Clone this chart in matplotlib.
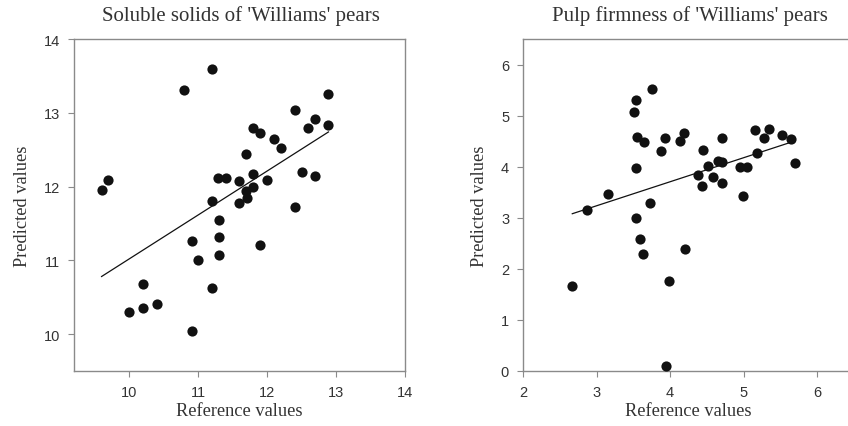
import numpy as np
import matplotlib.pyplot as plt

# ─── DATA ────────────────────────────────────────────────
ss_ref = [9.60, 9.70, 10.80, 11.20, 12.89, 12.89, 12.40, 12.70, 12.59, 11.80,
          11.90, 12.10, 12.20, 11.70, 11.80, 11.29, 11.40, 11.59, 12.00, 12.50,
          12.70, 11.80, 11.70, 11.71, 11.59, 11.20, 12.40, 11.30, 11.30, 10.91,
          11.30, 11.90, 11.00, 10.20, 11.20, 10.40, 10.20, 10.00, 10.91]
ss_pred = [11.96, 12.09, 13.31, 13.59, 13.26, 12.83, 13.04, 12.92, 12.79, 12.80,
           12.73, 12.65, 12.52, 12.44, 12.17, 12.11, 12.11, 12.08, 12.09, 12.20,
           12.14, 12.00, 11.94, 11.84, 11.78, 11.81, 11.72, 11.54, 11.31, 11.26,
           11.07, 11.21, 11.01, 10.68, 10.63, 10.41, 10.36, 10.30, 10.04]

pf_ref = [2.67, 2.87, 3.15, 3.51, 3.54, 3.75, 3.55, 3.65, 3.54, 3.72,
          3.54, 3.59, 3.63, 3.88, 3.93, 4.14, 4.19, 4.20, 3.99, 3.95,
          4.38, 4.43, 4.45, 4.52, 4.58, 4.65, 4.70, 4.70, 4.70, 4.95,
          5.04, 4.99, 5.15, 5.18, 5.28, 5.35, 5.52, 5.65, 5.70]
pf_pred = [1.67, 3.15, 3.47, 5.07, 5.31, 5.52, 4.58, 4.48, 3.97, 3.29,
           2.99, 2.58, 2.29, 4.31, 4.57, 4.51, 4.65, 2.38, 1.77, 0.09,
           3.84, 3.62, 4.33, 4.01, 3.80, 4.12, 4.10, 4.56, 3.68, 3.99,
           3.99, 3.42, 4.71, 4.27, 4.57, 4.74, 4.62, 4.54, 4.08]

ss_ticks_x = [10, 11, 12, 13, 14]
ss_ticks_y = [10, 11, 12, 13, 14]
pf_ticks_x = [2, 3, 4, 5, 6]
pf_ticks_y = [0, 1, 2, 3, 4, 5, 6]

SERIF = "Liberation Serif"
SANS = "Liberation Sans"
SPINE = "#8a8a8a"
TXT = "#333333"

W, H = 848, 427
fig = plt.figure(figsize=(W / 100, H / 100), dpi=100)


def panel(rect, x, y, xlim, ylim, xt, yt):
    l, t, r, b = rect
    ax = fig.add_axes([l / W, 1 - b / H, (r - l) / W, (b - t) / H])
    ax.scatter(x, y, s=54, color="#111111", zorder=3, linewidths=0)
    # least-squares line over the observed range
    k, c = np.polyfit(x, y, 1)
    xx = np.array([min(x), max(x)])
    ax.plot(xx, k * xx + c, color="#111111", lw=0.9, zorder=2)
    ax.set_xlim(*xlim); ax.set_ylim(*ylim)
    ax.set_xticks(xt); ax.set_yticks(yt)
    for s in ax.spines.values():
        s.set_color(SPINE); s.set_linewidth(1.0)
    ax.tick_params(direction="out", length=4, width=0.8, color=SPINE,
                   labelcolor=TXT, labelsize=10.5, pad=6)
    for lab in ax.get_xticklabels() + ax.get_yticklabels():
        lab.set_fontfamily(SANS)
    ax.set_xlabel("Reference values", fontfamily=SERIF, fontsize=13.2,
                  color=TXT, labelpad=2)
    ax.set_ylabel("Predicted values", fontfamily=SERIF, fontsize=13.2,
                  color=TXT, labelpad=9)
    return ax


ax1 = panel((74, 40, 405, 372), ss_ref, ss_pred, (9.2, 14), (9.5, 14),
            ss_ticks_x, ss_ticks_y)
ax2 = panel((523, 40, 854, 372), pf_ref, pf_pred, (2, 6.5), (0, 6.5),
            pf_ticks_x, pf_ticks_y)

fig.text(241 / W, 1 - 16 / H, "Soluble solids of 'Williams' pears",
         ha="center", va="center", fontfamily=SERIF, fontsize=15, color=TXT)
fig.text(690 / W, 1 - 16 / H, "Pulp firmness of 'Williams' pears",
         ha="center", va="center", fontfamily=SERIF, fontsize=15, color=TXT)

fig.savefig("out.png", dpi=100)
